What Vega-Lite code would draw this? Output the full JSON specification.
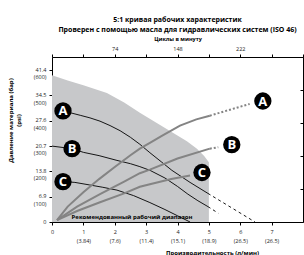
{
  "$schema": "https://vega.github.io/schema/vega-lite/v6.json",
  "width": 251,
  "height": 165,
  "autosize": "none",
  "padding": {"left": 52, "top": 57, "right": 1, "bottom": 33},
  "background": "white",
  "title": {
    "text": "5:1 кривая рабочих характеристик",
    "subtitle": "Проверен с помощью масла для гидравлических систем (ISO 46)",
    "font": "Open Sans", "fontSize": 7, "fontWeight": "bold", "color": "#000",
    "subtitleFont": "Open Sans", "subtitleFontSize": 7, "subtitleFontWeight": "bold", "subtitleColor": "#000",
    "anchor": "middle", "offset": 3, "subtitlePadding": 3
  },
  "config": {
    "view": {"stroke": null},
    "axis": {
      "labelFont": "Open Sans", "labelFontSize": 5.5, "labelColor": "#222",
      "titleFont": "Open Sans", "titleFontSize": 6, "titleFontWeight": "bold", "titleColor": "#000",
      "domainColor": "#000", "tickColor": "#000", "grid": false, "labelFlush": false
    }
  },
  "data": {"values": [
    {"k": "zone", "x": 0, "y": 40.0},
    {"k": "zone", "x": 0.5, "y": 38.6},
    {"k": "zone", "x": 1.0, "y": 37.3},
    {"k": "zone", "x": 1.75, "y": 35.2},
    {"k": "zone", "x": 2.3, "y": 32.6},
    {"k": "zone", "x": 2.8, "y": 29.8},
    {"k": "zone", "x": 3.3, "y": 27.2},
    {"k": "zone", "x": 3.8, "y": 24.6},
    {"k": "zone", "x": 4.3, "y": 22.0},
    {"k": "zone", "x": 4.62, "y": 20.0},
    {"k": "zone", "x": 4.85, "y": 18.0},
    {"k": "zone", "x": 5.0, "y": 16.3},
    {"k": "note", "x": 2.55, "y": 1.3, "t": "Рекомендованный рабочий диапазон"},
    {"k": "blk", "s": "A", "x": 0.4, "y": 30.2},
    {"k": "blk", "s": "A", "x": 0.9, "y": 29.1},
    {"k": "blk", "s": "A", "x": 1.21, "y": 28.4},
    {"k": "blk", "s": "A", "x": 1.53, "y": 27.5},
    {"k": "blk", "s": "A", "x": 1.85, "y": 26.3},
    {"k": "blk", "s": "A", "x": 2.17, "y": 24.9},
    {"k": "blk", "s": "A", "x": 2.5, "y": 23.1},
    {"k": "blk", "s": "A", "x": 2.8, "y": 21.2},
    {"k": "blk", "s": "A", "x": 3.12, "y": 18.9},
    {"k": "blk", "s": "A", "x": 3.5, "y": 16.3},
    {"k": "blk", "s": "A", "x": 3.82, "y": 14.1},
    {"k": "blk", "s": "A", "x": 4.4, "y": 10.8},
    {"k": "blk", "s": "A", "x": 4.97, "y": 7.8},
    {"k": "blkd", "s": "A", "x": 4.97, "y": 7.8},
    {"k": "blkd", "s": "A", "x": 6.47, "y": 0},
    {"k": "blk", "s": "B", "x": 0, "y": 20.7},
    {"k": "blk", "s": "B", "x": 0.64, "y": 20.0},
    {"k": "blk", "s": "B", "x": 1.0, "y": 19.0},
    {"k": "blk", "s": "B", "x": 1.5, "y": 18.1},
    {"k": "blk", "s": "B", "x": 2.07, "y": 16.8},
    {"k": "blk", "s": "B", "x": 2.5, "y": 15.9},
    {"k": "blk", "s": "B", "x": 2.8, "y": 15.1},
    {"k": "blk", "s": "B", "x": 3.12, "y": 14.1},
    {"k": "blk", "s": "B", "x": 3.6, "y": 12.0},
    {"k": "blk", "s": "B", "x": 4.0, "y": 9.7},
    {"k": "blk", "s": "B", "x": 4.33, "y": 7.6},
    {"k": "blk", "s": "B", "x": 4.65, "y": 5.8},
    {"k": "blk", "s": "B", "x": 4.97, "y": 4.2},
    {"k": "blkd", "s": "B", "x": 4.97, "y": 4.2},
    {"k": "blkd", "s": "B", "x": 5.3, "y": 2.4},
    {"k": "blk", "s": "C", "x": 0.4, "y": 11.0},
    {"k": "blk", "s": "C", "x": 0.73, "y": 10.8},
    {"k": "blk", "s": "C", "x": 1.2, "y": 10.1},
    {"k": "blk", "s": "C", "x": 1.6, "y": 9.5},
    {"k": "blk", "s": "C", "x": 2.07, "y": 8.7},
    {"k": "blk", "s": "C", "x": 2.6, "y": 7.2},
    {"k": "blk", "s": "C", "x": 3.12, "y": 5.3},
    {"k": "blk", "s": "C", "x": 3.6, "y": 3.4},
    {"k": "blk", "s": "C", "x": 4.0, "y": 1.7},
    {"k": "blk", "s": "C", "x": 4.4, "y": 0},
    {"k": "gry", "s": "A", "x": 0.16, "y": 0.5},
    {"k": "gry", "s": "A", "x": 0.5, "y": 4.2},
    {"k": "gry", "s": "A", "x": 1.0, "y": 8.1},
    {"k": "gry", "s": "A", "x": 1.5, "y": 11.7},
    {"k": "gry", "s": "A", "x": 2.0, "y": 15.0},
    {"k": "gry", "s": "A", "x": 2.5, "y": 18.2},
    {"k": "gry", "s": "A", "x": 2.8, "y": 20.0},
    {"k": "gry", "s": "A", "x": 3.12, "y": 21.6},
    {"k": "gry", "s": "A", "x": 3.5, "y": 23.5},
    {"k": "gry", "s": "A", "x": 4.08, "y": 26.3},
    {"k": "gry", "s": "A", "x": 4.6, "y": 28.0},
    {"k": "gry", "s": "A", "x": 5.03, "y": 29.0},
    {"k": "gryd", "s": "A", "x": 5.03, "y": 29.0},
    {"k": "gryd", "s": "A", "x": 6.3, "y": 32.2},
    {"k": "gry", "s": "B", "x": 0.16, "y": 0.5},
    {"k": "gry", "s": "B", "x": 0.8, "y": 4.2},
    {"k": "gry", "s": "B", "x": 1.53, "y": 7.6},
    {"k": "gry", "s": "B", "x": 2.3, "y": 11.0},
    {"k": "gry", "s": "B", "x": 2.8, "y": 13.3},
    {"k": "gry", "s": "B", "x": 3.12, "y": 14.3},
    {"k": "gry", "s": "B", "x": 4.0, "y": 17.3},
    {"k": "gry", "s": "B", "x": 5.03, "y": 20.0},
    {"k": "gryd", "s": "B", "x": 5.03, "y": 20.0},
    {"k": "gryd", "s": "B", "x": 5.3, "y": 20.4},
    {"k": "gry", "s": "C", "x": 0.16, "y": 0.5},
    {"k": "gry", "s": "C", "x": 0.8, "y": 3.0},
    {"k": "gry", "s": "C", "x": 1.53, "y": 5.4},
    {"k": "gry", "s": "C", "x": 2.3, "y": 7.8},
    {"k": "gry", "s": "C", "x": 2.8, "y": 9.6},
    {"k": "gry", "s": "C", "x": 3.12, "y": 10.3},
    {"k": "gry", "s": "C", "x": 3.8, "y": 11.7},
    {"k": "gry", "s": "C", "x": 4.4, "y": 12.7},
    {"k": "circ", "s": "A", "x": 0.35, "y": 30.3},
    {"k": "circ", "s": "B", "x": 0.64, "y": 20.0},
    {"k": "circ", "s": "C", "x": 0.35, "y": 11.0},
    {"k": "circ", "s": "A", "x": 6.72, "y": 33.0},
    {"k": "circ", "s": "B", "x": 5.73, "y": 21.1},
    {"k": "circ", "s": "C", "x": 4.78, "y": 13.5}
  ]},
  "layer": [
    {
      "transform": [{"filter": "datum.k == 'zone'"}],
      "mark": {"type": "area", "color": "#c7c8ca"},
      "encoding": {
        "x": {"field": "x", "type": "quantitative", "scale": {"domain": [0, 8], "nice": false},
          "axis": {"orient": "bottom", "values": [0, 1, 2, 3, 4, 5, 6, 7],
            "title": "Производительность (л/мин)",
            "labelExpr": "datum.value == 0 ? '0' : [datum.label, ['', '(3.84)', '(7.6)', '(11.4)', '(15.1)', '(18.9)', '(26.5)', '(26.5)'][datum.value]]",
            "tickSize": 3, "labelPadding": 4, "labelLineHeight": 9, "titleX": 160, "titleY": 27}},
        "y": {"field": "y", "type": "quantitative", "scale": {"domain": [0, 45], "nice": false},
          "axis": {"orient": "left", "values": [0, 6.9, 13.8, 20.7, 27.6, 34.5, 41.4],
            "title": ["Давление материала (бар)", "(psi)"],
            "labelExpr": "datum.value == 0 ? '0' : [format(datum.value, '.1f'), '(' + round(datum.value / 6.9 * 100) + ')']",
            "tickSize": 3, "labelPadding": 3, "labelLineHeight": 7.5, "labelBaseline": "top", "labelOffset": -3,
            "titleX": -39, "titleY": 63}}
      }
    },
    {
      "transform": [{"filter": "datum.k == 'note'"}],
      "mark": {"type": "text", "font": "Open Sans", "fontSize": 6, "fontWeight": "bold", "color": "#000"},
      "encoding": {
        "x": {"field": "x", "type": "quantitative", "axis": null},
        "y": {"field": "y", "type": "quantitative", "axis": null},
        "text": {"field": "t"}
      }
    },
    {
      "transform": [{"filter": "datum.k == 'blk'"}],
      "mark": {"type": "line", "color": "#000", "strokeWidth": 0.9},
      "encoding": {
        "x": {"field": "x", "type": "quantitative",
          "axis": {"orient": "top", "values": [0, 1, 2, 3, 4, 5, 6, 7, 8],
            "labelExpr": "(datum.value == 2 || datum.value == 4 || datum.value == 6) ? '' + datum.value * 37 : ''",
            "title": "Циклы в минуту", "titleFontSize": 5.5, "tickSize": 3, "labelPadding": 3, "titlePadding": 5}},
        "y": {"field": "y", "type": "quantitative",
          "axis": {"orient": "right", "values": [0, 9, 18, 27, 36, 45], "labels": false, "title": null, "tickSize": -3}},
        "detail": {"field": "s"}
      }
    },
    {
      "transform": [{"filter": "datum.k == 'blkd'"}],
      "mark": {"type": "line", "color": "#000", "strokeWidth": 0.9, "strokeDash": [3, 3]},
      "encoding": {
        "x": {"field": "x", "type": "quantitative", "axis": null},
        "y": {"field": "y", "type": "quantitative", "axis": null},
        "detail": {"field": "s"}
      }
    },
    {
      "transform": [{"filter": "datum.k == 'gry'"}],
      "mark": {"type": "line", "color": "#848484", "strokeWidth": 2},
      "encoding": {
        "x": {"field": "x", "type": "quantitative", "axis": null},
        "y": {"field": "y", "type": "quantitative", "axis": null},
        "detail": {"field": "s"}
      }
    },
    {
      "transform": [{"filter": "datum.k == 'gryd'"}],
      "mark": {"type": "line", "color": "#848484", "strokeWidth": 2, "strokeDash": [2, 2]},
      "encoding": {
        "x": {"field": "x", "type": "quantitative", "axis": null},
        "y": {"field": "y", "type": "quantitative", "axis": null},
        "detail": {"field": "s"}
      }
    },
    {
      "transform": [{"filter": "datum.k == 'circ'"}],
      "mark": {"type": "point", "filled": true, "color": "#000", "opacity": 1, "size": 300},
      "encoding": {
        "x": {"field": "x", "type": "quantitative", "axis": null},
        "y": {"field": "y", "type": "quantitative", "axis": null}
      }
    },
    {
      "transform": [{"filter": "datum.k == 'circ'"}],
      "mark": {"type": "text", "font": "Open Sans", "fontSize": 13, "fontWeight": "bold", "color": "#fff", "baseline": "middle", "dy": 0.5},
      "encoding": {
        "x": {"field": "x", "type": "quantitative", "axis": null},
        "y": {"field": "y", "type": "quantitative", "axis": null},
        "text": {"field": "s"}
      }
    }
  ],
  "resolve": {"axis": {"x": "independent", "y": "independent"}}
}
